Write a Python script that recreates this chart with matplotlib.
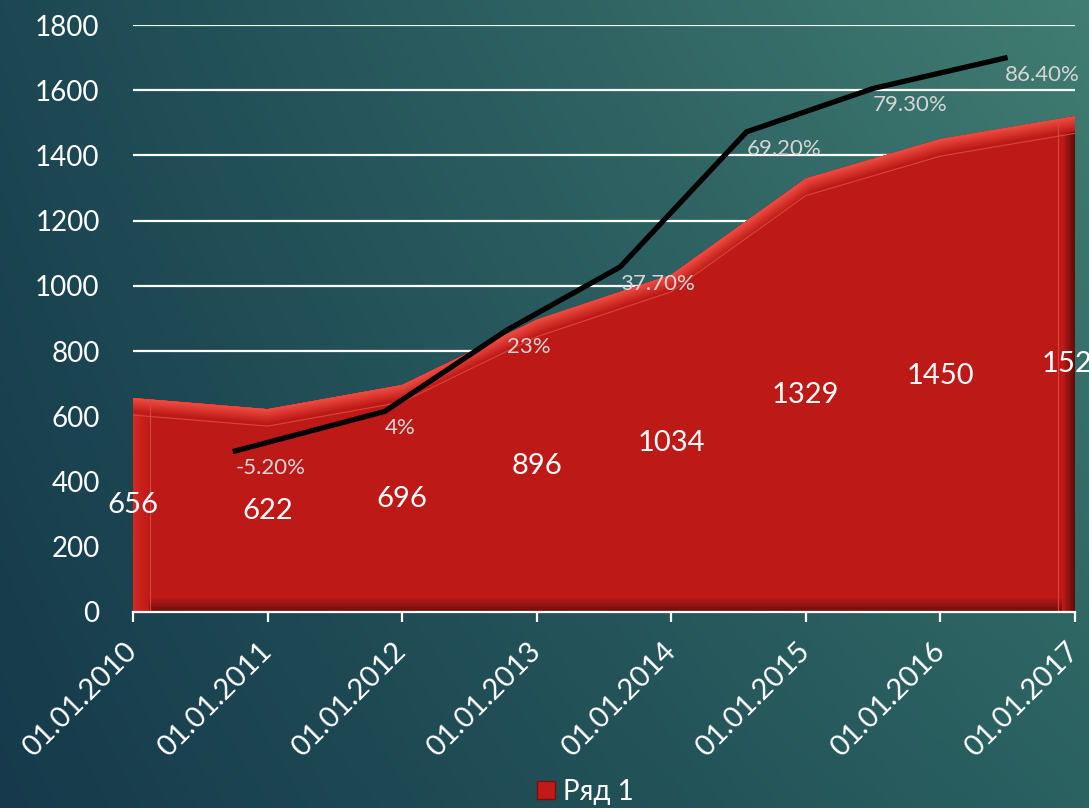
import numpy as np
import matplotlib
matplotlib.use("Agg")
import matplotlib.pyplot as plt
from matplotlib.patches import Polygon
from matplotlib.lines import Line2D
from matplotlib.colors import to_rgb
from matplotlib import transforms

plt.rcParams['font.family'] = ['Lato', 'DejaVu Sans']

# data
dates = ['01.01.2010', '01.01.2011', '01.01.2012', '01.01.2013',
         '01.01.2014', '01.01.2015', '01.01.2016', '01.01.2017']
values = [656, 622, 696, 896, 1034, 1329, 1450, 1520]
growth = [-5.2, 4, 23, 37.7, 69.2, 79.3, 86.4]
growth_labels = ['-5.20%', '4%', '23%', '37.70%', '69.20%', '79.30%', '86.40%']
growth_pos = [0.76, 1.87, 2.78, 3.62, 4.56, 5.50, 6.48]
series_name = 'Ряд 1'

fig = plt.figure(figsize=(10.89, 8.08), dpi=100)

# background gradient
bg = fig.add_axes([0, 0, 1, 1], zorder=-5)
tl = np.array([0x1c, 0x47, 0x53]) / 255
tr = np.array([0x41, 0x7d, 0x72]) / 255
bl = np.array([0x16, 0x3a, 0x4b]) / 255
br = np.array([0x2a, 0x61, 0x61]) / 255
u = np.linspace(0, 1, 300)[None, :, None]
v = np.linspace(0, 1, 300)[:, None, None]
img = (1 - v) * ((1 - u) * tl + u * tr) + v * ((1 - u) * bl + u * br)
bg.imshow(img, extent=[0, 1, 0, 1], aspect='auto')
bg.axis('off')

ax = fig.add_axes([133 / 1089, 1 - 612 / 808, (1075 - 133) / 1089, (612 - 25) / 808])
ax.patch.set_alpha(0)
x = np.arange(len(values))

# red area with a bevelled look
base = '#bd1a17'
verts = list(zip(x, values)) + [(x[-1], 0), (x[0], 0)]
area = Polygon(verts, closed=True, fc=base, ec='none', zorder=2)
ax.add_patch(area)


def bevel(xs, ys, edge, width_px, n=10, z=3, trans=None):
    # stacked clipped strokes: wide ones in the fill colour, narrow ones toward the edge colour
    c0, c1 = np.array(to_rgb(base)), np.array(to_rgb(edge))
    for k in range(n):
        f = k / (n - 1)
        lw = 2 * width_px * (1 - k / n) * 72 / 100
        ln, = ax.plot(xs, ys, color=tuple(c0 + (c1 - c0) * f), lw=lw, zorder=z,
                      solid_joinstyle='miter', solid_capstyle='projecting',
                      transform=trans if trans is not None else ax.transData)
        ln.set_clip_path(area)


bevel([x[0], x[-1]], [0, 0], '#6e0f0d', 16)
bevel([x[-1], x[-1]], [0, values[-1]], '#5e0b09', 13)
bevel([x[0], x[0]], [0, values[0]], '#d42822', 16)
bevel(x, values, '#ec4a40', 15)

# thin inner highlight frame
for dx, dy, xs, ys in [(0, -17, x, values),
                       (17, 0, [x[0], x[0]], [0, values[0]]),
                       (-17, 0, [x[-1], x[-1]], [0, values[-1]])]:
    ln, = ax.plot(xs, ys, color='#d8453c', lw=0.8, zorder=4,
                  transform=transforms.offset_copy(ax.transData, fig=fig, x=dx, y=dy, units='dots'))
    ln.set_clip_path(area)

for i, val in enumerate(values):
    ax.text(i, val / 2, str(val), ha='center', va='center', color='white',
            fontsize=21, zorder=6, clip_on=False)

# growth line on a hidden secondary scale
ax2 = ax.twinx()
ax2.set_ylim(-42.75, 94.1)
ax2.plot(growth_pos, growth, color='black', lw=3.8, zorder=5,
         solid_joinstyle='round')
for gx, gy, lab in zip(growth_pos, growth, growth_labels):
    ax2.annotate(lab, (gx, gy), xytext=(0, -5), textcoords='offset points',
                 ha='left', va='top', color='#d6d6d6', fontsize=16,
                 annotation_clip=False)
ax2.axis('off')
ax2.set_xlim(0, len(values) - 1)

ax.set_xlim(0, len(values) - 1)
ax.set_ylim(0, 1800)
ax.set_yticks(range(0, 1801, 200))
ax.set_xticks(x)
ax.set_xticklabels(dates, rotation=45, ha='right', va='center',
                   rotation_mode='anchor')
ax.yaxis.grid(True, color='white', lw=1.6)
ax.set_axisbelow(True)
for s in ['top', 'left', 'right']:
    ax.spines[s].set_visible(False)
ax.spines['bottom'].set_color('white')
ax.spines['bottom'].set_linewidth(1.6)
ax.spines['bottom'].set_zorder(7)
ax.tick_params(axis='y', length=0, pad=24, labelsize=20, labelcolor='white')
ax.tick_params(axis='x', length=7, width=1.6, color='white', pad=18,
               labelsize=21, labelcolor='white')

handle = Line2D([], [], marker='s', ls='', markersize=13,
                markerfacecolor='#c01b18', markeredgecolor='#7a0e0c')
fig.legend([handle], [series_name], loc='center', bbox_to_anchor=(0.535, 0.02),
           frameon=False, fontsize=20, labelcolor='white', handletextpad=0.1,
           handlelength=1.0)

fig.savefig('out.png', dpi=100)
